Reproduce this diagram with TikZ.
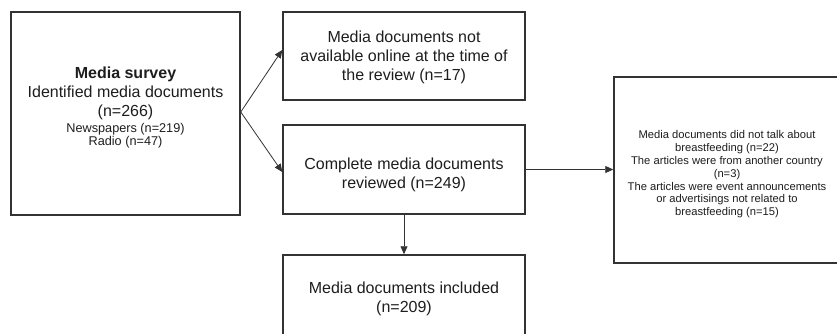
\documentclass[tikz,border=0pt]{standalone}
\usepackage{fontspec}
\setmainfont{Liberation Sans}
\usetikzlibrary{arrows.meta}
\definecolor{boxline}{HTML}{333333}
\definecolor{txt}{HTML}{1E1E1E}
\begin{document}
\begin{tikzpicture}[x=1pt,y=-1pt,
  box/.style={draw=boxline,line width=1.5pt,inner sep=0pt},
  big/.style={align=center,text=txt,font=\fontsize{16}{19.2}\selectfont,inner sep=0pt},
  small/.style={align=center,text=txt,font=\fontsize{12.7}{13.5}\selectfont,inner sep=0pt},
  tiny/.style={align=center,text=txt,font=\fontsize{11.2}{12.8}\selectfont,inner sep=0pt},
  arr/.style={draw=boxline,line width=0.8pt,-{Triangle[length=8pt,width=7pt]}}]
\clip (0,0) rectangle (837,334);
\fill[white] (0,0) rectangle (837,334);
% boxes
\node[box,minimum width=229pt,minimum height=203pt] (A) at (125.5,113.5) {};
\node[box,minimum width=242pt,minimum height=88pt] (B) at (404,56) {};
\node[box,minimum width=242pt,minimum height=89pt] (C) at (404,169.5) {};
\node[box,minimum width=242pt,minimum height=90pt] (D) at (404,300) {};
\node[box,minimum width=226pt,minimum height=186pt] (E) at (727,170) {};
% texts
\node[big] (At) at (125.5,93.5) {\textbf{Media survey}\\Identified media documents\\(n=266)};
\node[small] (As) at (125.5,135.5) {Newspapers (n=219)\\Radio (n=47)};
\node[big] (Bt) at (404,57.5) {Media documents not\\available online at the time of\\the review (n=17)};
\node[big] (Ct) at (404,175) {Complete media documents\\reviewed (n=249)};
\node[big] (Dt) at (404,298.5) {Media documents included\\(n=209)};
\node[tiny] (Et) at (727,174.5) {Media documents did not talk about\\breastfeeding (n=22)\\The articles were from another country\\(n=3)\\The articles were event announcements\\or advertisings not related to\\breastfeeding (n=15)};
% connectors
\draw[arr] ([yshift=1.5pt]A.east) -- ([yshift=6pt]B.west);
\draw[arr] ([yshift=1.5pt]A.east) -- ([yshift=-2.5pt]C.west);
\draw[arr] (C.east) -- (C.east -| E.west);
\draw[arr] (C.south) -- (D.north);
\end{tikzpicture}
\end{document}
